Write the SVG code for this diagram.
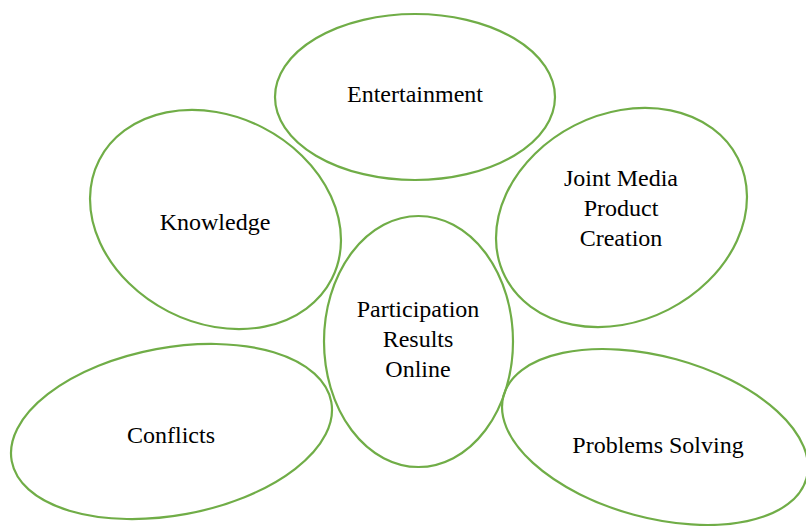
<svg xmlns="http://www.w3.org/2000/svg" width="806" height="526" viewBox="0 0 806 526">
<style>
.n ellipse{fill:none;stroke:#70AD47;stroke-width:2.2}
.n text{font-family:"Liberation Serif","Times New Roman",serif;font-size:24px;fill:#000;text-anchor:middle}
</style>
<rect width="806" height="526" fill="#fff"/>
<g id="connectors"/>
<g id="entertainment" class="n">
<ellipse cx="415" cy="97" rx="140" ry="83"/>
<text x="415" y="102">Entertainment</text>
</g>
<g id="knowledge" class="n">
<ellipse cx="215.5" cy="219.5" rx="130.6" ry="103.4" transform="rotate(27 215.5 219.5)"/>
<text x="215" y="230">Knowledge</text>
</g>
<g id="joint-media" class="n">
<ellipse cx="621.5" cy="217.5" rx="130.6" ry="103.4" transform="rotate(-27 621.5 217.5)"/>
<text x="621" y="186">Joint Media</text>
<text x="621" y="216">Product</text>
<text x="621" y="246">Creation</text>
</g>
<g id="participation" class="n">
<ellipse cx="418.5" cy="341.5" rx="94.5" ry="125.5"/>
<text x="418" y="317">Participation</text>
<text x="418" y="347">Results</text>
<text x="418" y="377">Online</text>
</g>
<g id="conflicts" class="n">
<ellipse cx="171.5" cy="431.5" rx="162.5" ry="83.8" transform="rotate(-10.5 171.5 431.5)"/>
<text x="171" y="443">Conflicts</text>
</g>
<g id="problems-solving" class="n">
<ellipse cx="655" cy="437" rx="157" ry="80.6" transform="rotate(15.2 655 437)"/>
<text x="658" y="453">Problems Solving</text>
</g>
</svg>
